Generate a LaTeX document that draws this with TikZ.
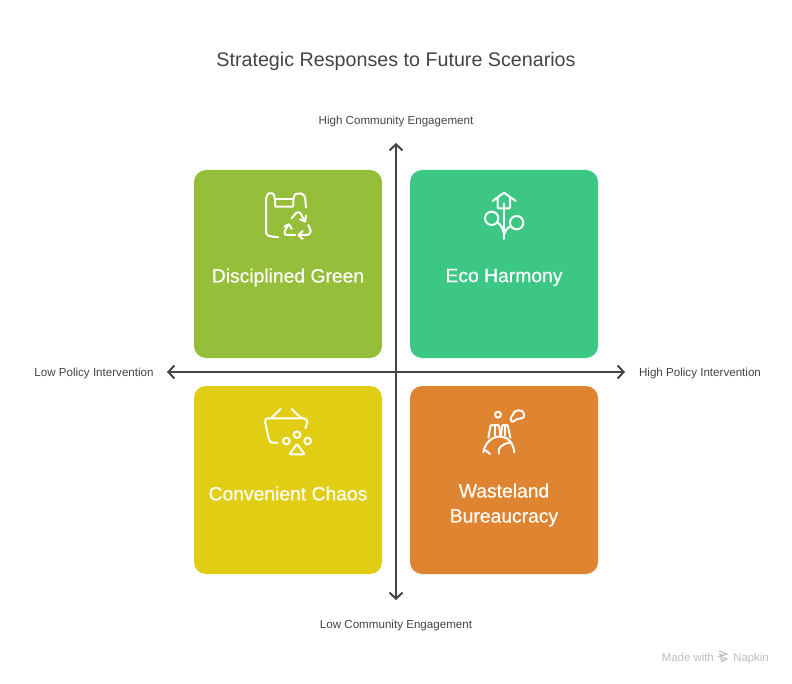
\documentclass[tikz,border=0pt]{standalone}
\usepackage{fontspec}
\setmainfont{Liberation Sans}
\newfontfamily\boxfont[FakeBold=0.35]{Liberation Sans}
\usetikzlibrary{arrows.meta}
\definecolor{inkgrey}{HTML}{444444}
\definecolor{greenbox}{HTML}{95BE3A}
\definecolor{mintbox}{HTML}{3DC785}
\definecolor{yellowbox}{HTML}{E0CD14}
\definecolor{orangebox}{HTML}{DF8430}
\begin{document}
\begin{tikzpicture}[x=1pt,y=-1pt,
  quad/.style={rounded corners=12pt,minimum width=188pt,minimum height=188pt,inner sep=0pt},
  quadname/.style={text=white,align=center,inner sep=0pt,font=\fontsize{19.3}{25}\boxfont},
  axis/.style={draw=inkgrey,line width=2.4pt,{Straight Barb[length=6pt,width=13pt,line width=2pt]}-{Straight Barb[length=6pt,width=13pt,line width=2pt]}},
  axislabel/.style={text=inkgrey,font=\fontsize{11.6}{14}\selectfont,inner sep=0pt},
  icon/.style={draw=white,line width=2pt,line cap=round,line join=round,fill=none,rounded corners=1pt}]
\useasboundingbox[fill=white] (0,0) rectangle (792,684);
% title
\node[text=inkgrey,font=\fontsize{19.7}{24}\selectfont,inner sep=0pt] (title) at (396,61.5) {Strategic Responses to Future Scenarios};
% quadrants
\node[quad,fill=greenbox] (green) at (288,264) {};
\node[quad,fill=mintbox] (mint) at (504,264) {};
\node[quad,fill=yellowbox] (yellow) at (288,480) {};
\node[quad,fill=orangebox] (orange) at (504,480) {};
\node[quadname] (greenname) at (288,277.5) {Disciplined Green};
\node[quadname] (mintname) at (504,277.5) {Eco Harmony};
\node[quadname] (yellowname) at (288,493.5) {Convenient Chaos};
\node[quadname] (orangename) at (504,505) {Wasteland\\Bureaucracy};
% axes
\node[axislabel] (high) at (396,121.5) {High Community Engagement};
\node[axislabel] (low) at (396,625.5) {Low Community Engagement};
\node[axislabel] (left) at (94,373.5) {Low Policy Intervention};
\node[axislabel] (right) at (700,373.5) {High Policy Intervention};
\coordinate (top) at (396,143);
\coordinate (bottom) at (396,600);
\coordinate (west) at (167,372);
\coordinate (east) at (625,372);
\draw[axis] (top) -- (bottom);
\draw[axis] (west) -- (east);
% bag icon
\begin{scope}[shift={(240,175)},scale=1/3]
\draw[icon] (115,187) -- (85,183) -- (78,175) -- (78,70) -- (84,55) -- (100,55) -- (105,72) -- (105,95) -- (160,95) -- (160,72) -- (165,57) -- (185,55) -- (195,65) -- (198,97);
\draw[icon] (105,72) -- (160,72);
\draw[icon] (155,130) -- (170,112) -- (180,112) -- (195,140);
\draw[icon] (180,133) -- (195,140) -- (198,122);
\draw[icon] (165,180) -- (135,180) -- (133,170) -- (146,148);
\draw[icon] (133,155) -- (147,147) -- (155,162);
\draw[icon] (205,150) -- (213,170) -- (205,180) -- (175,180);
\draw[icon] (188,168) -- (175,180) -- (188,192);
\end{scope}
% sprout icon
\begin{scope}[shift={(455,175)},scale=1/3]
\draw[icon] (113,78) -- (147,53) -- (182,78);
\draw[icon] (128,68) -- (128,100) -- (165,100) -- (165,68);
\draw[icon] (147,85) -- (147,192);
\draw[icon] (110,130) circle (20);
\draw[icon] (185,143) circle (20);
\draw[icon] (128,143) .. controls (138,148) and (142,160) .. (147,176);
\draw[icon] (166,155) .. controls (156,158) and (150,168) .. (147,180);
\end{scope}
% basket icon
\begin{scope}[shift={(240,395)},scale=1/3]
\draw[icon] (122,42) -- (95,68);
\draw[icon] (155,42) -- (182,68);
\draw[icon] (112,143) -- (92,143) -- (86,130) -- (75,80) -- (78,70) -- (195,70) -- (203,80) -- (196,100);
\draw[icon] (139,138) circle (10);
\draw[icon] (171,119) circle (10);
\draw[icon] (203,138) circle (10);
\draw[icon] (171,147) -- (194,178) -- (148,178) -- cycle;
\end{scope}
% factory icon
\begin{scope}[shift={(455,395)},scale=1/3]
\draw[icon] (129,59) circle (9);
\draw[icon] (168,78) .. controls (164,68) and (172,64) .. (175,56) .. controls (180,44) and (206,42) .. (207,60) .. controls (208,72) and (190,70) .. (183,74) .. controls (178,78) and (172,82) .. (168,78) -- cycle;
\draw[icon] (100,128) -- (107,90) -- (132,90) -- (137,124);
\draw[icon] (137,124) -- (142,90) -- (158,90) -- (166,128);
\draw[icon] (120,90) -- (120,122);
\draw[icon] (150,90) -- (150,122);
\draw[icon] (85,172) .. controls (90,140) and (115,124) .. (137,125) .. controls (160,126) and (175,145) .. (178,172);
\draw[icon] (92,166) -- (105,177);
\draw[icon] (132,176) .. controls (126,160) and (140,146) .. (165,143);
\end{scope}
% footer
\node[text=black!25,font=\fontsize{11.4}{14}\selectfont,inner sep=0pt,anchor=base east] (madewith) at (714,661) {Made with};
\node[text=black!25,font=\fontsize{11.4}{14}\selectfont,inner sep=0pt,anchor=base east] (napkin) at (769,661) {Napkin};
\draw[black!25,line width=1.1pt] (719,651) -- (727,654) -- (719,656.5) -- (727,659) -- (721,662) (719,654) -- (724,655.5) (720,659) -- (724,660.5);
\end{tikzpicture}
\end{document}
